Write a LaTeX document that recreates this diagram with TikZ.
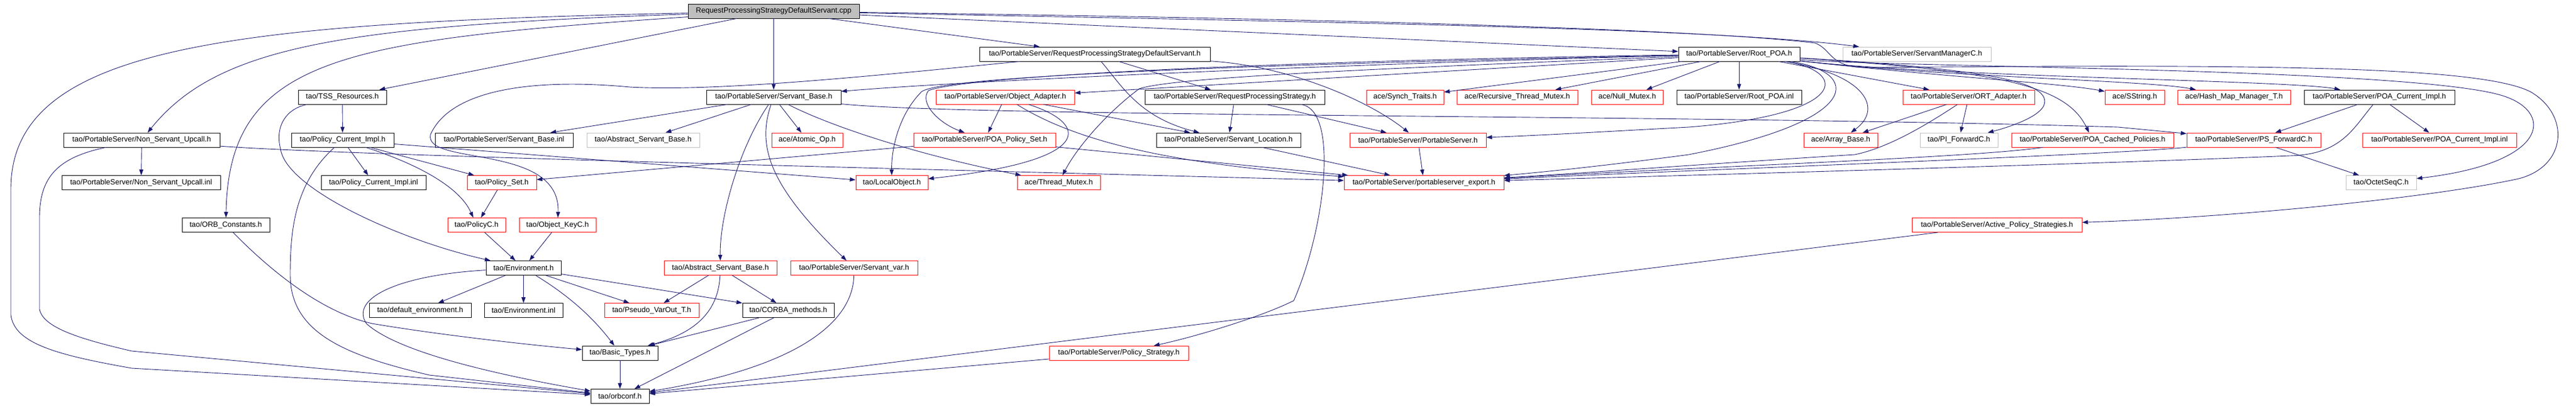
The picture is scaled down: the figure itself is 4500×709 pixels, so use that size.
\documentclass[tikz,border=0pt]{standalone}
\usepackage{fontspec}
\setmainfont{Liberation Sans}
\usetikzlibrary{arrows.meta}
\definecolor{edgeblue}{HTML}{191970}
\definecolor{boxgray}{HTML}{BFBFBF}
\begin{document}
\begin{tikzpicture}[x=1pt, y=-1pt, >={Triangle[length=10pt,width=7pt]},
    hdr/.style={draw=black, line width=0.8pt, fill=white, minimum height=25pt, inner sep=0pt, font=\fontsize{13}{15}\selectfont},
    redhdr/.style={hdr, draw=red},
    grayhdr/.style={hdr, draw=boxgray},
    wd/.style={minimum width=#1pt},
    inc/.style={->, draw=edgeblue, line width=0.9pt}]
\useasboundingbox (0,0) rectangle (4500,709);
% row 0 and 1
\node (root) at (1351.5,19.5)[hdr, fill=boxgray, wd=299]{RequestProcessingStrategyDefaultServant.cpp};
\node (rpsds) at (1912.5,94.5)[hdr, wd=403]{tao/PortableServer/RequestProcessingStrategyDefaultServant.h};
\node (rootpoa) at (3038,94.5)[hdr, wd=212]{tao/PortableServer/Root\_POA.h};
\node (smgr) at (3348.5,94.5)[grayhdr, wd=259]{tao/PortableServer/ServantManagerC.h};
% row 2
\node (tss) at (598,169.5)[hdr, wd=154]{tao/TSS\_Resources.h};
\node (sbase) at (1351.5,169.5)[hdr, wd=235]{tao/PortableServer/Servant\_Base.h};
\node (oadapter) at (1756,169.5)[redhdr, wd=242]{tao/PortableServer/Object\_Adapter.h};
\node (rps) at (2157,169.5)[hdr, wd=314]{tao/PortableServer/RequestProcessingStrategy.h};
\node (synch) at (2454.5,169.5)[redhdr, wd=135]{ace/Synch\_Traits.h};
\node (rtmutex) at (2650.5,169.5)[redhdr, wd=211]{ace/Recursive\_Thread\_Mutex.h};
\node (nmutex) at (2842.5,169.5)[redhdr, wd=125]{ace/Null\_Mutex.h};
\node (rootpoainl) at (3038,169.5)[hdr, wd=218]{tao/PortableServer/Root\_POA.inl};
\node (ort) at (3439,169.5)[redhdr, wd=230]{tao/PortableServer/ORT\_Adapter.h};
\node (sstring) at (3729,169.5)[redhdr, wd=104]{ace/SString.h};
\node (hashmap) at (3902.5,169.5)[redhdr, wd=197]{ace/Hash\_Map\_Manager\_T.h};
\node (pcur) at (4156.5,169.5)[hdr, wd=263]{tao/PortableServer/POA\_Current\_Impl.h};
% row 3
\node (nsu) at (247.5,244.5)[hdr, wd=273]{tao/PortableServer/Non\_Servant\_Upcall.h};
\node (polcur) at (598.5,244.5)[hdr, wd=179]{tao/Policy\_Current\_Impl.h};
\node (sbaseinl) at (880.5,244.5)[hdr, wd=241]{tao/PortableServer/Servant\_Base.inl};
\node (asbgray) at (1123.5,244.5)[grayhdr, wd=197]{tao/Abstract\_Servant\_Base.h};
\node (atomic) at (1410,244.5)[redhdr, wd=124]{ace/Atomic\_Op.h};
\node (poaps) at (1720,244.5)[redhdr, wd=248]{tao/PortableServer/POA\_Policy\_Set.h};
\node (sloc) at (2146,244.5)[hdr, wd=252]{tao/PortableServer/Servant\_Location.h};
\node (psh) at (2477,244.5)[redhdr, wd=238]{tao/PortableServer/PortableServer.h};
\node (arraybase) at (3215.5,244.5)[redhdr, wd=129]{ace/Array\_Base.h};
\node (piforward) at (3422,244.5)[grayhdr, wd=136]{tao/PI\_ForwardC.h};
\node (cached) at (3655.5,244.5)[redhdr, wd=283]{tao/PortableServer/POA\_Cached\_Policies.h};
\node (psforward) at (3937,244.5)[redhdr, wd=234]{tao/PortableServer/PS\_ForwardC.h};
\node (pcurinl) at (4261.5,244.5)[redhdr, wd=269]{tao/PortableServer/POA\_Current\_Impl.inl};
% row 4
\node (nsuinl) at (246.5,319)[hdr, wd=277]{tao/PortableServer/Non\_Servant\_Upcall.inl};
\node (polcurinl) at (652.5,319)[hdr, wd=183]{tao/Policy\_Current\_Impl.inl};
\node (polset) at (876.5,319)[redhdr, wd=121]{tao/Policy\_Set.h};
\node (localobj) at (1558,319)[redhdr, wd=126]{tao/LocalObject.h};
\node (tmutex) at (1849.5,319)[redhdr, wd=145]{ace/Thread\_Mutex.h};
\node (psexport) at (2487.5,319)[redhdr, wd=279]{tao/PortableServer/portableserver\_export.h};
\node (octet) at (4159.5,319)[grayhdr, wd=123]{tao/OctetSeqC.h};
% row 5 to 9
\node (orbconst) at (394.5,393)[hdr, wd=153]{tao/ORB\_Constants.h};
\node (policyc) at (832.5,393)[redhdr, wd=101]{tao/PolicyC.h};
\node (objkey) at (974,393)[redhdr, wd=134]{tao/Object\_KeyC.h};
\node (aps) at (3488.5,393)[redhdr, wd=297]{tao/PortableServer/Active\_Policy\_Strategies.h};
\node (env) at (914.5,468)[hdr, wd=131]{tao/Environment.h};
\node (asbred) at (1258.5,468)[redhdr, wd=197]{tao/Abstract\_Servant\_Base.h};
\node (svar) at (1492,468)[redhdr, wd=222]{tao/PortableServer/Servant\_var.h};
\node (defenv) at (734,542)[hdr, wd=178]{tao/default\_environment.h};
\node (envinl) at (914.5,542)[hdr, wd=137]{tao/Environment.inl};
\node (pseudo) at (1138.5,542)[redhdr, wd=165]{tao/Pseudo\_VarOut\_T.h};
\node (corba) at (1377,542)[hdr, wd=160]{tao/CORBA\_methods.h};
\node (basic) at (1083,616.5)[hdr, wd=132]{tao/Basic\_Types.h};
\node (polstrat) at (1954.5,616.5)[redhdr, wd=243]{tao/PortableServer/Policy\_Strategy.h};
\node (orbconf) at (1083,692)[hdr, wd=102]{tao/orbconf.h};

% includes of the .cpp
\foreach \t in {tss,sbase,rpsds,rootpoa}
{
    \draw[inc](root)--(\t);
}
\draw[inc](root) .. controls (600,70) and (400,100) .. (orbconst);
\draw[inc](root) .. controls (600,45) and (380,80) .. (nsu);
\draw[inc](root) .. controls (400,40) and (19,80) .. (19,330) -- (19,550) .. controls (25,600) and (100,620) .. (230,643) -- (orbconf);
\draw[inc](root) .. controls (2400,40) and (3000,50) .. (smgr);
\draw[inc](root) .. controls (2500,35) and (3000,55) .. (3170,75) .. controls (3200,85) and (3195,118) .. (3260,118)
    .. controls (3950,112) and (4330,115) .. (4420,160) .. controls (4490,200) and (4485,290) .. (4400,312)
    .. controls (4250,345) and (3900,380) .. (aps);

\draw[inc](tss)--(polcur);
\draw[inc](tss) .. controls (500,190) and (480,220) .. (490,260) .. controls (500,330) and (700,420) .. (env);
\foreach \t in {polcurinl,polset,localobj}
{
    \draw[inc](polcur)--(\t);
}
\draw[inc](polcur) .. controls (710,280) and (800,320) .. (policyc);
\draw[inc](polcur) .. controls (515,320) and (507,400) .. (507,480) .. controls (507,580) and (600,620) .. (750,655) -- (orbconf);
\draw[inc](nsu)--(nsuinl);
\draw[inc](nsu) .. controls (100,275) and (69,310) .. (69,380) -- (69,540) .. controls (75,570) and (130,590) .. (230,613) -- (orbconf);
\draw[inc](nsu) .. controls (600,272) and (1800,300) .. (psexport);
\draw[inc](orbconst) .. controls (470,470) and (560,545) .. (650,565) .. controls (750,582) and (900,600) .. (basic);

\draw[inc](rpsds)--(rps);
\draw[inc](rpsds) .. controls (1960,150) and (1990,205) .. (sloc);
\draw[inc](rpsds) .. controls (2250,115) and (2390,175) .. (psh);
\draw[inc](rpsds) .. controls (1500,135) and (1250,160) .. (1100,152) .. controls (950,138) and (790,150) .. (752,235) .. controls (740,290) and (980,250) .. (objkey);

\foreach \t in {sbaseinl,asbgray,atomic}
{
    \draw[inc](sbase)--(\t);
}
\draw[inc](sbase) .. controls (1290,260) and (1257,380) .. (asbred);
\draw[inc](sbase) .. controls (1320,260) and (1350,330) .. (svar);
\draw[inc](sbase) .. controls (1450,220) and (1600,270) .. (tmutex);
\draw[inc](sbase) .. controls (1700,205) and (3000,200) .. (3700,222) -- (psforward);

\draw[inc](oadapter)--(poaps);
\draw[inc](oadapter)--(sloc);
\draw[inc](oadapter) .. controls (1900,215) and (1920,280) .. (localobj);
\draw[inc](oadapter) .. controls (1900,260) and (2100,290) .. (psexport);
\draw[inc](poaps)--(polset);
\draw[inc](poaps)--(psexport);
\draw[inc](rps)--(sloc);
\draw[inc](rps)--(psh);
\draw[inc](rps) .. controls (2340,190) and (2315,400) .. (2260,525) .. controls (2200,555) and (2080,590) .. (polstrat);
\draw[inc](sloc)--(psexport);
\draw[inc](psh)--(psexport);

% Root_POA.h
\foreach \t in {synch,rtmutex,nmutex,rootpoainl,ort,oadapter}
{
    \draw[inc](rootpoa)--(\t);
}
\draw[inc](rootpoa) .. controls (3400,135) and (3600,145) .. (sstring);
\draw[inc](rootpoa) .. controls (3400,135) and (3750,140) .. (hashmap);
\draw[inc](rootpoa) .. controls (3400,135) and (4000,140) .. (pcur);
\draw[inc](rootpoa) .. controls (3260,130) and (3290,190) .. (arraybase);
\draw[inc](rootpoa) .. controls (3450,120) and (3590,140) .. (3570,185) .. controls (3560,205) and (3510,222) .. (piforward);
\draw[inc](rootpoa) .. controls (3500,125) and (3610,150) .. (cached);
\draw[inc](rootpoa) .. controls (3230,125) and (3230,200) .. (2950,222) .. controls (2800,230) and (2700,236) .. (psh);
\draw[inc](rootpoa) .. controls (3250,125) and (3260,210) .. (2950,270) .. controls (2800,290) and (2700,300) .. (psexport);
\draw[inc](rootpoa) .. controls (2400,110) and (1700,140) .. (sbase);
\draw[inc](rootpoa) .. controls (2300,105) and (1700,130) .. (1622,158) .. controls (1605,180) and (1640,215) .. (poaps);
\draw[inc](rootpoa) .. controls (2300,110) and (1650,130) .. (1610,160) .. controls (1570,200) and (1557,260) .. (localobj);
\draw[inc](rootpoa) .. controls (2400,120) and (2050,135) .. (1990,155) .. controls (1930,200) and (1880,260) .. (tmutex);
\draw[inc](rootpoa) .. controls (3300,118) and (4250,118) .. (4380,170) .. controls (4460,200) and (4450,285) .. (octet);

\draw[inc](ort)--(arraybase);
\draw[inc](ort)--(piforward);
\draw[inc](ort) .. controls (3370,215) and (3300,258) .. (3240,270) .. controls (3000,285) and (2800,300) .. (psexport);
\draw[inc](cached) .. controls (3450,275) and (3000,290) .. (psexport);
\draw[inc](psforward)--(octet);
\draw[inc](psforward) .. controls (3700,270) and (3000,295) .. (psexport);
\draw[inc](pcur)--(psforward);
\draw[inc](pcur)--(pcurinl);
\draw[inc](pcur) .. controls (4110,225) and (4090,270) .. (4000,272) .. controls (3700,285) and (3000,305) .. (psexport);

% lower part
\draw[inc](polset)--(policyc);
\draw[inc](policyc)--(env);
\draw[inc](objkey)--(env);
\foreach \t in {defenv,envinl,pseudo,corba}
{
    \draw[inc](env)--(\t);
}
\draw[inc](env) .. controls (1000,520) and (1040,560) .. (basic);
\draw[inc](env) .. controls (700,480) and (610,520) .. (640,565) .. controls (700,620) and (900,660) .. (orbconf);
\draw[inc](asbred)--(pseudo);
\draw[inc](asbred)--(corba);
\draw[inc](asbred) .. controls (1255,540) and (1220,580) .. (basic);
\draw[inc](corba)--(basic);
\draw[inc](corba)--(orbconf);
\draw[inc](basic)--(orbconf);
\draw[inc](svar) .. controls (1490,560) and (1400,640) .. (orbconf);
\draw[inc](polstrat)--(orbconf);
\draw[inc](aps)--(orbconf);
\end{tikzpicture}
\end{document}
